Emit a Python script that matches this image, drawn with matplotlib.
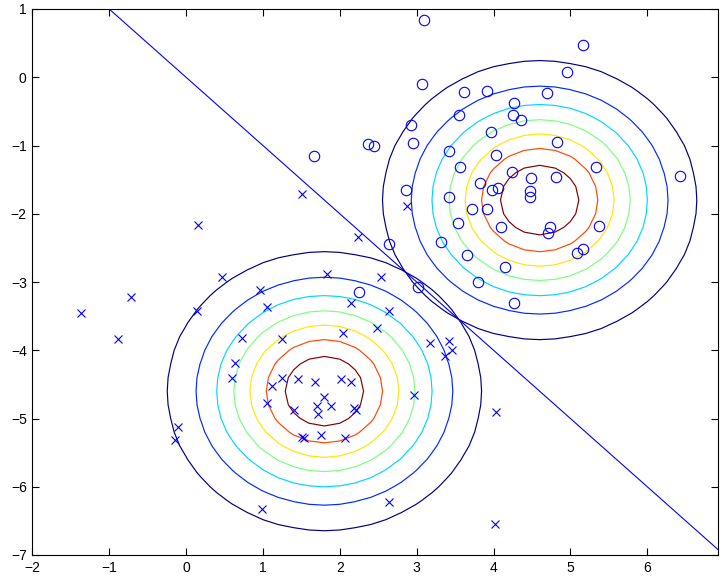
import numpy as np
import matplotlib
matplotlib.use('Agg')
import matplotlib.pyplot as plt

plt.rcParams['font.family'] = ['Liberation Sans', 'DejaVu Sans']

# class 0 samples (crosses)
x0 = [1.51, 0.15, 2.24, 0.47, 1.83, -1.37, -0.71, -0.89, 0.14, 0.96,
      1.05, 0.73, 0.64, 0.60, -0.11, -0.14, 0.99, 1.05, 1.25, 1.12,
      1.25, 1.45, 1.68, 2.01, 2.15, 1.79, 1.71, 1.72, 1.89, 1.41,
      2.18, 2.21, 2.04, 2.15, 1.51, 1.54, 1.75, 2.07, 2.54, 2.64,
      2.49, 3.17, 3.42, 3.46, 3.37, 2.96, 4.03, 2.64, 4.02, 2.87]
y0 = [-1.71, -2.17, -2.34, -2.92, -2.88, -3.45, -3.22, -3.84, -3.42, -3.11,
      -3.37, -3.82, -4.19, -4.40, -5.12, -5.31, -6.32, -4.78, -3.83, -4.52,
      -4.41, -4.42, -4.46, -4.42, -4.47, -4.69, -4.81, -4.93, -4.81, -4.87,
      -4.84, -4.87, -3.75, -3.31, -5.27, -5.28, -5.24, -5.28, -2.93, -3.43,
      -3.68, -3.90, -3.87, -3.99, -4.08, -4.66, -4.90, -6.23, -6.55, -1.88]

# class 1 samples (circles)
x1 = [3.10, 3.07, 3.61, 3.91, 3.55, 2.92, 2.95, 2.37, 2.44, 1.66,
      3.42, 3.56, 3.82, 2.86, 3.42, 3.72, 3.91, 3.54, 5.17, 4.96,
      4.69, 4.26, 4.25, 4.36, 3.97, 4.83, 4.03, 5.33, 6.43, 4.24,
      4.49, 4.81, 3.98, 4.06, 4.47, 4.48, 4.10, 4.74, 4.71, 5.37,
      3.32, 2.64, 5.09, 5.16, 3.66, 4.15, 3.80, 2.25, 3.02, 4.27]
y1 = [0.84, -0.10, -0.21, -0.20, -0.56, -0.70, -0.97, -0.98, -1.00, -1.16,
      -1.08, -1.32, -1.55, -1.65, -1.75, -1.93, -1.93, -2.14, 0.47, 0.08,
      -0.23, -0.38, -0.55, -0.63, -0.80, -0.95, -1.14, -1.32, -1.44, -1.39,
      -1.48, -1.46, -1.65, -1.63, -1.66, -1.75, -2.20, -2.19, -2.28, -2.18,
      -2.41, -2.44, -2.57, -2.51, -2.61, -2.78, -3.00, -3.14, -3.07, -3.31]

# fitted gaussians (shared identity covariance)
mu0 = [1.8, -4.6]
mu1 = [4.6, -1.8]
sigma = 1.0
level_frac = [0.125, 0.25, 0.375, 0.5, 0.625, 0.75, 0.875]

# decision boundary y = a*x + b
line_a = -1.0
line_b = 0.0

fig = plt.figure(figsize=(7.2, 5.78), dpi=100)
ax = fig.add_axes([32.3 / 720, 23 / 578, (718 - 32.3) / 720, (555 - 9) / 578])

gx, gy = np.meshgrid(np.arange(-2, 7.01, 0.2), np.arange(-7, 1.01, 0.2))
peak = 1 / (2 * np.pi * sigma ** 2)
levels = [peak * f for f in level_frac]
for mu in (mu0, mu1):
    z = peak * np.exp(-((gx - mu[0]) ** 2 + (gy - mu[1]) ** 2) / (2 * sigma ** 2))
    ax.contour(gx, gy, z, levels=levels, cmap='jet', linewidths=0.85)

ax.plot(x0, y0, 'x', color='blue', ms=5.5, mew=0.8)
ax.plot(x1, y1, 'o', color='blue', ms=7.5, mfc='none', mew=0.8)

lx = np.array([-2, 7])
ax.plot(lx, line_a * lx + line_b, color='blue', lw=0.8)

ax.set_xlim(-2, 6.92)
ax.set_ylim(-7, 1)
ax.set_xticks(range(-2, 7))
ax.set_yticks(range(-7, 2))
ax.set_xticklabels(['\u2212' + str(-t) if t < 0 else str(t) for t in range(-2, 7)])
ax.set_yticklabels(['\u2212' + str(-t) if t < 0 else str(t) for t in range(-7, 2)])
ax.tick_params(direction='in', top=True, right=True, length=5, width=0.8,
               labelsize=10, pad=4)
for s in ax.spines.values():
    s.set_linewidth(0.8)

fig.savefig('out.png', dpi=100)
